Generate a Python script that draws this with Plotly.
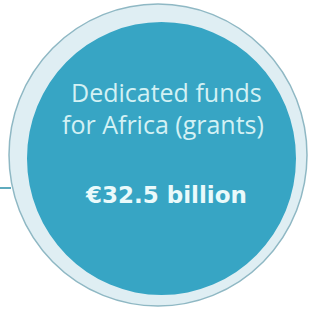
import plotly.graph_objects as go

label_lines = ["Dedicated funds", "for Africa (grants)"]
value_text = "€32.5 billion"

W, H = 312, 313
fig = go.Figure()

# outer ring
fig.add_shape(type="circle", xref="x", yref="y", x0=9, y0=4, x1=307, y1=306,
              fillcolor="#dfeef3", line=dict(color="#8fb8c4", width=1.5), layer="below")
# inner teal disc
fig.add_shape(type="circle", xref="x", yref="y", x0=27, y0=22, x1=296, y1=295,
              fillcolor="#37a5c4", line=dict(color="#37a5c4", width=0), layer="below")
# connector line
fig.add_shape(type="line", xref="x", yref="y", x0=0, y0=188, x1=11, y1=188,
              line=dict(color="#2a8fa8", width=1.5))

fig.add_annotation(x=166, y=92, xref="x", yref="y", text=label_lines[0], showarrow=False,
                   font=dict(family="Open Sans", size=25, color="#d3f1f4"))
fig.add_annotation(x=163, y=124, xref="x", yref="y", text=label_lines[1], showarrow=False,
                   font=dict(family="Open Sans", size=25, color="#d3f1f4"))
fig.add_annotation(x=166, y=195, xref="x", yref="y", text="<b>" + value_text + "</b>", showarrow=False,
                   font=dict(family="DejaVu Sans", size=23, color="#eafafb"))

fig.update_xaxes(range=[0, W], visible=False, fixedrange=True)
fig.update_yaxes(range=[H, 0], visible=False, fixedrange=True)
fig.update_layout(width=W, height=H, margin=dict(l=0, r=0, t=0, b=0),
                  paper_bgcolor="white", plot_bgcolor="white", showlegend=False)
fig.write_html("out.html", config={"displayModeBar": False},
               post_script="document.body.style.margin='0';document.body.style.overflow='hidden';")
